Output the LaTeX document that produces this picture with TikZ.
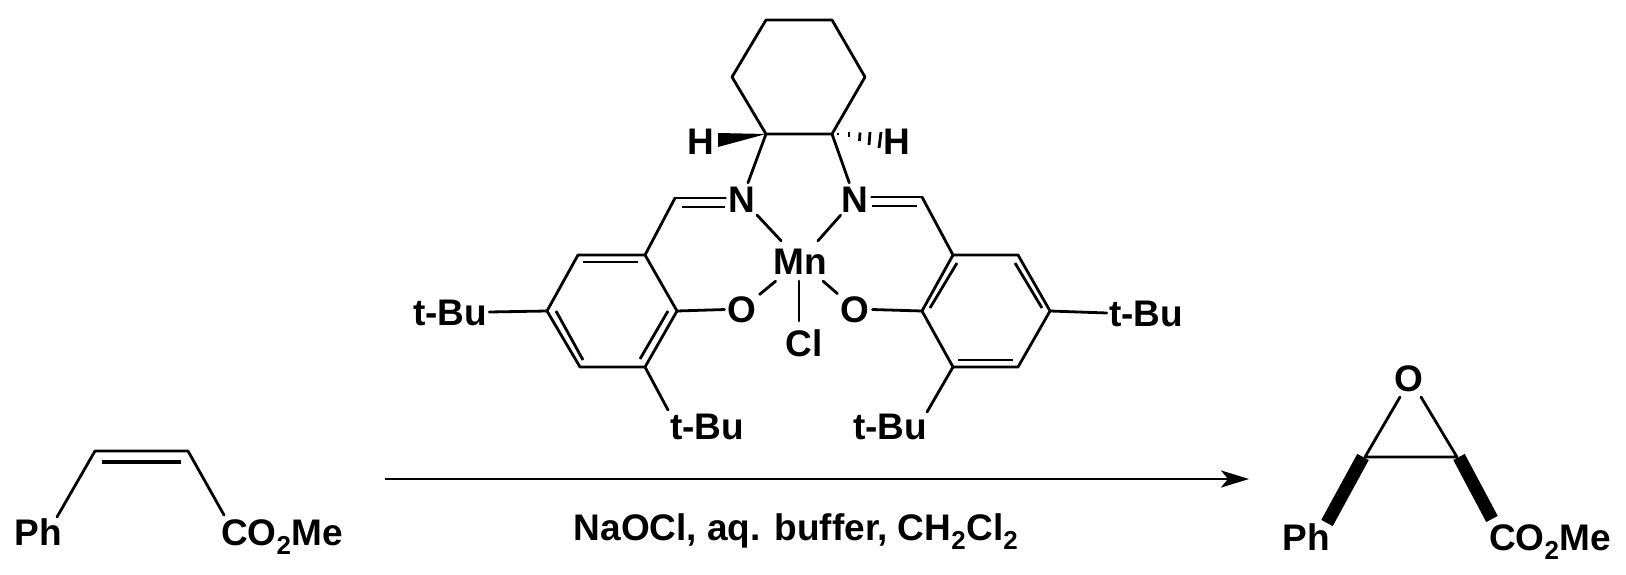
\documentclass[tikz,border=0pt]{standalone}
\usepackage{fontspec}
\setmainfont{Liberation Sans}
\usetikzlibrary{arrows.meta}
\tikzset{
  x=1pt,y=-1pt,
  atom/.style={font=\fontsize{37}{42}\selectfont\bfseries,inner sep=2pt,text height=26pt,text depth=0pt},
  bond/.style={line width=2.8pt,line cap=round,line join=round},
  inner/.style={line width=2.8pt,line cap=butt},
  hash/.style={line width=2.8pt,line cap=butt},
  boldbond/.style={line width=13pt,line cap=butt},
  rarrow/.style={line width=2.8pt,-{Stealth[length=28pt,width=17pt,inset=7pt]}}
}
\begin{document}
\begin{tikzpicture}
\useasboundingbox (0,0) rectangle (1626,575);
% cyclohexane
\coordinate (c1) at (766,20);\coordinate (c2) at (832,20);\coordinate (c3) at (865,77);
\coordinate (c4) at (832,134);\coordinate (c5) at (766,134);\coordinate (c6) at (732,77);
\draw[bond] (c1)--(c2)--(c3)--(c4)--(c5)--(c6)--cycle;
% labels
\node[atom] (HL) at (701,142) {H};
\node[atom] (HR) at (897,142) {H};
\node[atom,inner sep=3pt] (NL) at (742,199) {N};
\node[atom,inner sep=3pt] (NR) at (855,199) {N};
\node[atom,minimum width=52pt,minimum height=40pt] (Mn) at (800,261) {Mn};
\node[atom,inner sep=3pt] (OL) at (742,309) {O};
\node[atom,inner sep=3pt] (OR) at (855,309) {O};
\node[atom] (Cl) at (804,343) {Cl};
\coordinate (ClEnd) at (799,321);
\node[atom] (tL) at (450,312) {t-Bu};
\node[atom] (tR) at (1146,313) {t-Bu};
\node[atom] (tLb) at (707,426) {t-Bu};
\node[atom] (tRb) at (890,426) {t-Bu};
% wedges
\fill (c5) -- (718,133) -- (718,147) -- cycle;
\draw[hash] (838,133.5)--(838,135.5);
\draw[hash] (849,132.5)--(849,137.5);
\draw[hash] (860,132.5)--(859.5,141);
\draw[hash] (870,132)--(869,145);
\draw[hash] (881,132)--(879,148);
% imine
\coordinate (imL) at (675,198);\coordinate (imR) at (922,197);
\coordinate (aL1) at (645,255);\coordinate (aL2) at (578,255);\coordinate (aL3) at (547,311);
\coordinate (aL4) at (580,367);\coordinate (aL5) at (645,367);\coordinate (aL6) at (677,311);
\coordinate (aR1) at (953,255);\coordinate (aR2) at (1018,255);\coordinate (aR3) at (1050,311);
\coordinate (aR4) at (1018,367);\coordinate (aR5) at (953,367);\coordinate (aR6) at (922,311);
\draw[bond] (c5)--(NL);\draw[bond] (c4)--(NR);
\draw[bond] (imL)--(NL.west |- imL);\draw[bond] (imR)--(NR.east |- imR);
\draw[inner] (682,207)--(NL.west |- 0,207);\draw[inner] (NR.east |- 0,206)--(917,206);
\draw[bond] (imL)--(aL1);\draw[bond] (imR)--(aR1);
\draw[bond] (NL)--(Mn);\draw[bond] (NR)--(Mn);\draw[bond] (OL)--(Mn);\draw[bond] (OR)--(Mn);
\draw[bond] (799,281)--(ClEnd);
\draw[bond] (aL1)--(aL2)--(aL3)--(aL4)--(aL5)--(aL6)--cycle;
\draw[bond] (aR1)--(aR2)--(aR3)--(aR4)--(aR5)--(aR6)--cycle;
\draw[inner] (583,262)--(638,262);
\draw[inner] (556,311)--(583,360);
\draw[inner] (668,311)--(640,359);
\draw[inner] (930,308)--(957,263);
\draw[inner] (1015,263)--(1042,308);
\draw[inner] (958,360)--(1013,360);
\draw[bond] (aL6)--(OL);\draw[bond] (aR6)--(OR);
\draw[bond] (aL3)--(tL.east);\draw[bond] (aR3)--(tR.west);
\coordinate (tLbEnd) at (668,410);\coordinate (tRbEnd) at (927,412);
\draw[bond] (aL5)--(tLbEnd);\draw[bond] (aR5)--(tRbEnd);
% reactant
\node[atom] (Ph1) at (38.5,532) {Ph};
\node[atom] (Est1) at (282,532) {CO\textsubscript{2}Me};
\coordinate (e1) at (95,451);\coordinate (e2) at (188,451);
\coordinate (e0) at (57,517);\coordinate (e3) at (224,515);
\draw[bond] (e0)--(e1)--(e2)--(e3);
\draw[line width=3.5pt] (102,462)--(181,462);
% arrow
\coordinate (arrA) at (385,479);\coordinate (arrB) at (1249,479);
\draw[rarrow] (arrA)--(arrB);
\node[atom] (cond) at (796,527) {NaOCl, aq. buffer, CH\textsubscript{2}Cl\textsubscript{2}};
% product
\node[atom] (Oep) at (1409,378) {O};
\node[atom] (Ph2) at (1306,537) {Ph};
\node[atom] (Est2) at (1550,537) {CO\textsubscript{2}Me};
\coordinate (p1) at (1365,457);\coordinate (p2) at (1457,457);
\coordinate (o1) at (1400,397);\coordinate (o2) at (1421,397);
\draw[bond] (o1)--(p1)--(p2)--(o2);
\coordinate (b1) at (1327,523);\coordinate (b2) at (1492,519);
\draw[boldbond] (1363,457)--(b1);
\draw[boldbond] (1459,457)--(b2);
\end{tikzpicture}
\end{document}
